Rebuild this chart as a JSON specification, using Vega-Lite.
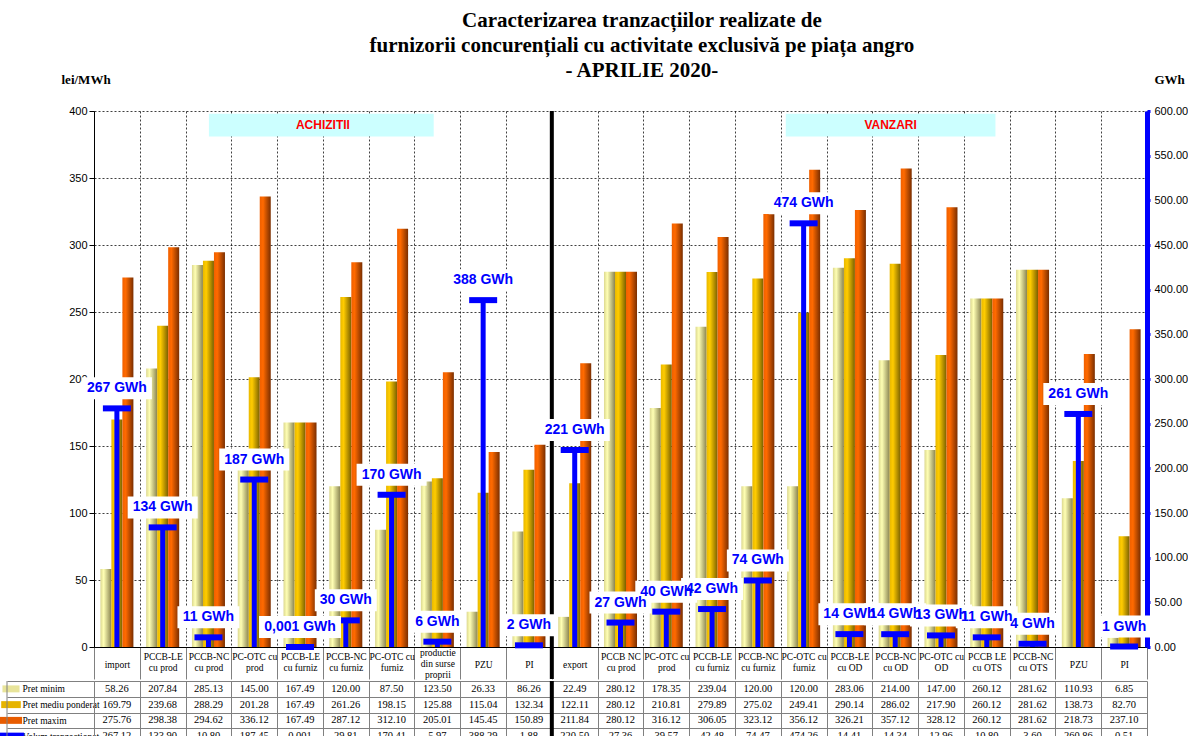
{
  "$schema": "https://vega.github.io/schema/vega-lite/v6.json",
  "background": "white",
  "padding": {"left": -2, "top": 10, "right": 0, "bottom": 0},
  "config": {"view": {"stroke": null}, "font": "Liberation Sans"},
  "title": {
    "text": ["Caracterizarea tranzacțiilor realizate de", "furnizorii concurențiali cu activitate exclusivă pe piața angro", "- APRILIE 2020-"],
    "font": "Liberation Serif", "fontSize": 21, "fontWeight": "bold", "lineHeight": 25, "color": "#000", "anchor": "middle", "dx": 49, "offset": -8
  },
  "datasets": {
    "rows": [
      {"cat": "A01|import", "min": 58.26, "med": 169.79, "max": 275.76, "vol": 267.12, "lbl": "267 GWh"},
      {"cat": "A02|PCCB-LE~cu prod", "min": 207.84, "med": 239.68, "max": 298.38, "vol": 133.90, "lbl": "134 GWh"},
      {"cat": "A03|PCCB-NC~cu prod", "min": 285.13, "med": 288.29, "max": 294.62, "vol": 10.80, "lbl": "11 GWh"},
      {"cat": "A04|PC-OTC cu~prod", "min": 145.00, "med": 201.28, "max": 336.12, "vol": 187.45, "lbl": "187 GWh"},
      {"cat": "A05|PCCB-LE~cu furniz", "min": 167.49, "med": 167.49, "max": 167.49, "vol": 0.001, "lbl": "0,001 GWh"},
      {"cat": "A06|PCCB-NC~cu furniz", "min": 120.00, "med": 261.26, "max": 287.12, "vol": 29.81, "lbl": "30 GWh"},
      {"cat": "A07|PC-OTC cu~furniz", "min": 87.50, "med": 198.15, "max": 312.10, "vol": 170.41, "lbl": "170 GWh"},
      {"cat": "A08|productie~din surse~proprii", "min": 123.50, "med": 125.88, "max": 205.01, "vol": 5.97, "lbl": "6 GWh"},
      {"cat": "A09|PZU", "min": 26.33, "med": 115.04, "max": 145.45, "vol": 388.29, "lbl": "388 GWh"},
      {"cat": "A10|PI", "min": 86.26, "med": 132.34, "max": 150.89, "vol": 1.88, "lbl": "2 GWh"},
      {"cat": "V01|export", "min": 22.49, "med": 122.11, "max": 211.84, "vol": 220.50, "lbl": "221 GWh"},
      {"cat": "V02|PCCB NC~cu prod", "min": 280.12, "med": 280.12, "max": 280.12, "vol": 27.36, "lbl": "27 GWh"},
      {"cat": "V03|PC-OTC cu~prod", "min": 178.35, "med": 210.81, "max": 316.12, "vol": 39.57, "lbl": "40 GWh"},
      {"cat": "V04|PCCB-LE~cu furniz", "min": 239.04, "med": 279.89, "max": 306.05, "vol": 42.48, "lbl": "42 GWh"},
      {"cat": "V05|PCCB-NC~cu furniz", "min": 120.00, "med": 275.02, "max": 323.12, "vol": 74.47, "lbl": "74 GWh"},
      {"cat": "V06|PC-OTC cu~furniz", "min": 120.00, "med": 249.41, "max": 356.12, "vol": 474.26, "lbl": "474 GWh"},
      {"cat": "V07|PCCB-LE~cu OD", "min": 283.06, "med": 290.14, "max": 326.21, "vol": 14.41, "lbl": "14 GWh"},
      {"cat": "V08|PCCB-NC~cu OD", "min": 214.00, "med": 286.02, "max": 357.12, "vol": 14.34, "lbl": "14 GWh"},
      {"cat": "V09|PC-OTC cu~OD", "min": 147.00, "med": 217.90, "max": 328.12, "vol": 12.96, "lbl": "13 GWh"},
      {"cat": "V10|PCCB LE~cu OTS", "min": 260.12, "med": 260.12, "max": 260.12, "vol": 10.80, "lbl": "11 GWh"},
      {"cat": "V11|PCCB-NC~cu OTS", "min": 281.62, "med": 281.62, "max": 281.62, "vol": 3.60, "lbl": "4 GWh"},
      {"cat": "V12|PZU", "min": 110.93, "med": 138.73, "max": 218.73, "vol": 260.86, "lbl": "261 GWh"},
      {"cat": "V13|PI", "min": 6.85, "med": 82.70, "max": 237.10, "vol": 0.51, "lbl": "1 GWh"}
    ]
  },
  "spacing": -12,
  "vconcat": [
    {
      "width": 1053,
      "height": 536,
      "data": {"name": "rows"},
      "encoding": {
        "x": {
          "field": "cat", "type": "nominal", "sort": "ascending",
          "scale": {"paddingInner": 0, "paddingOuter": 0},
          "axis": {
            "orient": "bottom", "title": null, "tickBand": "extent", "tickSize": 32, "tickColor": "#808080",
            "domainColor": "#000", "grid": true, "gridDash": [2, 2], "gridColor": "#000", "gridOpacity": 0.75,
            "labelExpr": "isValid(datum.value) ? split(substring(datum.value, 4), '~') : ''", "labelAngle": 0, "labelFont": "Liberation Serif",
            "labelFontSize": 9.5, "labelColor": "#000", "labelBaseline": "middle",
            "labelPadding": {"condition": [{"test": "isValid(datum.value) && indexof(datum.value, '~') < 0", "value": -15}, {"test": "isValid(datum.value) && indexof(datum.value, 'proprii') >= 0", "value": -27}], "value": -23},
            "labelLineHeight": 11, "labelOverlap": false
          }
        }
      },
      "layer": [
        {
          "transform": [{"fold": ["min", "med", "max"], "as": ["series", "price"]}, {"filter": "datum.series === 'min'"}],
          "mark": {"type": "bar", "fill": {"gradient": "linear", "x1": 0, "y1": 0, "x2": 1, "y2": 0, "stops": [{"offset": 0, "color": "#dcd890"}, {"offset": 0.3, "color": "#ffffb4"}, {"offset": 1, "color": "#8a8450"}]}},
          "encoding": {
            "xOffset": {"field": "series", "type": "nominal", "scale": {"domain": ["min", "med", "max"], "paddingInner": 0, "paddingOuter": 0.58}},
            "y": {
              "field": "price", "type": "quantitative", "scale": {"domain": [0, 400]},
              "axis": {
                "orient": "left", "values": [0, 50, 100, 150, 200, 250, 300, 350, 400], "grid": true,
                "gridDash": [2, 2], "gridColor": "#000", "gridOpacity": 0.75, "domainColor": "#000",
                "tickColor": "#000", "tickSize": 5, "labelFont": "Liberation Sans", "labelFontSize": 11,
                "labelColor": "#000", "title": "lei/MWh", "titleAngle": 0, "titleAlign": "left",
                "titleBaseline": "alphabetic", "titleX": -33, "titleY": -28, "titleFont": "Liberation Serif",
                "titleFontSize": 13, "titleFontWeight": "bold", "titleColor": "#000"
              }
            }
          }
        },
        {
          "transform": [{"fold": ["min", "med", "max"], "as": ["series", "price"]}, {"filter": "datum.series === 'med'"}],
          "mark": {"type": "bar", "fill": {"gradient": "linear", "x1": 0, "y1": 0, "x2": 1, "y2": 0, "stops": [{"offset": 0, "color": "#e8b800"}, {"offset": 0.3, "color": "#ffcc00"}, {"offset": 1, "color": "#7a6000"}]}},
          "encoding": {
            "xOffset": {"field": "series", "type": "nominal", "scale": {"domain": ["min", "med", "max"], "paddingInner": 0, "paddingOuter": 0.58}},
            "y": {"field": "price", "type": "quantitative", "scale": {"domain": [0, 400]}, "axis": null}
          }
        },
        {
          "transform": [{"fold": ["min", "med", "max"], "as": ["series", "price"]}, {"filter": "datum.series === 'max'"}],
          "mark": {"type": "bar", "fill": {"gradient": "linear", "x1": 0, "y1": 0, "x2": 1, "y2": 0, "stops": [{"offset": 0, "color": "#f06000"}, {"offset": 0.3, "color": "#ff6a00"}, {"offset": 1, "color": "#7a2e00"}]}},
          "encoding": {
            "xOffset": {"field": "series", "type": "nominal", "scale": {"domain": ["min", "med", "max"], "paddingInner": 0, "paddingOuter": 0.58}},
            "y": {"field": "price", "type": "quantitative", "scale": {"domain": [0, 400]}, "axis": null}
          }
        },
        {
          "data": {"values": [{"name": "divider"}]},
          "mark": {"type": "rule", "color": "#000", "strokeWidth": 4, "y2Offset": 32},
          "encoding": {
            "x": {"datum": "V01|export", "bandPosition": 0},
            "y": {"datum": 400, "type": "quantitative", "scale": {"domain": [0, 400]}, "axis": null},
            "y2": {"datum": 0}
          }
        },
        {
          "data": {"values": [{"name": "ACHIZITII"}]},
          "mark": {"type": "rect", "color": "#ccffff"},
          "encoding": {
            "x": {"datum": "A03|PCCB-NC~cu prod", "bandPosition": 0.51},
            "x2": {"datum": "A08|productie~din surse~proprii", "bandPosition": 0.42},
            "y": {"datum": 398, "type": "quantitative", "scale": {"domain": [0, 400]}, "axis": null},
            "y2": {"datum": 381}
          }
        },
        {
          "data": {"values": [{"name": "VANZARI"}]},
          "mark": {"type": "rect", "color": "#ccffff"},
          "encoding": {
            "x": {"datum": "V06|PC-OTC cu~furniz", "bandPosition": 0.11},
            "x2": {"datum": "V10|PCCB LE~cu OTS", "bandPosition": 0.69},
            "y": {"datum": 398, "type": "quantitative", "scale": {"domain": [0, 400]}, "axis": null},
            "y2": {"datum": 381}
          }
        },
        {
          "data": {"values": [{"name": "ACHIZITII"}]},
          "mark": {"type": "text", "color": "#ff0000", "font": "Liberation Sans", "fontWeight": "bold", "fontSize": 12, "baseline": "middle"},
          "encoding": {
            "x": {"datum": "A06|PCCB-NC~cu furniz", "bandPosition": 0},
            "y": {"datum": 389.5, "type": "quantitative", "scale": {"domain": [0, 400]}, "axis": null},
            "text": {"field": "name"}
          }
        },
        {
          "data": {"values": [{"name": "VANZARI"}]},
          "mark": {"type": "text", "color": "#ff0000", "font": "Liberation Sans", "fontWeight": "bold", "fontSize": 12, "baseline": "middle"},
          "encoding": {
            "x": {"datum": "V08|PCCB-NC~cu OD", "bandPosition": 0.4},
            "y": {"datum": 389.5, "type": "quantitative", "scale": {"domain": [0, 400]}, "axis": null},
            "text": {"field": "name"}
          }
        },
        {
          "mark": {"type": "rule", "color": "#0000ff", "strokeWidth": 5},
          "encoding": {
            "y": {
              "field": "vol", "type": "quantitative", "scale": {"domain": [0, 600]},
              "axis": {
                "orient": "right", "values": [0, 50, 100, 150, 200, 250, 300, 350, 400, 450, 500, 550, 600],
                "format": ".2f", "grid": false, "domainColor": "#0000ff", "domainWidth": 5, "tickColor": "#0000ff",
                "tickWidth": 3, "tickSize": 3, "labelPadding": 4, "labelFont": "Liberation Sans", "labelFontSize": 11,
                "labelColor": "#000", "title": "GWh", "titleAngle": 0, "titleAlign": "left", "titleBaseline": "alphabetic",
                "titleX": 7, "titleY": -28, "titleFont": "Liberation Serif", "titleFontSize": 13,
                "titleFontWeight": "bold", "titleColor": "#000"
              }
            },
            "y2": {"datum": 0}
          }
        },
        {
          "mark": {"type": "tick", "color": "#0000ff", "thickness": 6, "size": 28, "orient": "horizontal", "opacity": 1},
          "encoding": {"y": {"field": "vol", "type": "quantitative", "scale": {"domain": [0, 600]}, "axis": null}}
        },
        {
          "transform": [{"calculate": "length(datum.lbl)", "as": "len"}],
          "mark": {"type": "point", "filled": true, "color": "white", "opacity": 1, "size": 400, "yOffset": -20, "strokeWidth": 0},
          "encoding": {
            "y": {"field": "vol", "type": "quantitative", "scale": {"domain": [0, 600]}, "axis": null},
            "shape": {
              "field": "len", "type": "ordinal",
              "scale": {"domain": [5, 6, 7, 9], "range": ["M-2.7,-1.1H2.7V1.1H-2.7Z", "M-3.1,-1.1H3.1V1.1H-3.1Z", "M-3.5,-1.1H3.5V1.1H-3.5Z", "M-4.1,-1.1H4.1V1.1H-4.1Z"]},
              "legend": null
            }
          }
        },
        {
          "mark": {"type": "text", "color": "#0000ff", "font": "Liberation Sans", "fontWeight": "bold", "fontSize": 14, "baseline": "middle", "yOffset": -20},
          "encoding": {
            "y": {"field": "vol", "type": "quantitative", "scale": {"domain": [0, 600]}, "axis": null},
            "text": {"field": "lbl"}
          }
        }
      ],
      "resolve": {"scale": {"y": "independent"}}
    },
    {
      "width": 1053,
      "height": 63,
      "data": {"name": "rows"},
      "transform": [{"fold": ["min", "med", "max", "vol"], "as": ["row", "value"]}],
      "layer": [
        {
          "transform": [{"calculate": "datum.value === 0.001 ? '0.001' : format(datum.value, '.2f')", "as": "txt"}],
          "mark": {"type": "text", "font": "Liberation Serif", "fontSize": 10.5, "color": "#000", "baseline": "middle"},
          "encoding": {
            "x": {
              "field": "cat", "type": "nominal", "sort": "ascending", "scale": {"paddingInner": 0, "paddingOuter": 0},
              "axis": {"orient": "top", "labels": false, "ticks": false, "domain": false, "grid": true, "gridColor": "#808080", "gridOpacity": 1, "tickBand": "extent", "title": null}
            },
            "y": {
              "field": "row", "type": "nominal", "sort": ["min", "med", "max", "vol"], "scale": {"paddingInner": 0, "paddingOuter": 0},
              "axis": {
                "orient": "left", "title": null,
                "labelExpr": "datum.value === 'min' ? 'Pret minim' : datum.value === 'med' ? 'Pret mediu ponderat' : datum.value === 'max' ? 'Pret maxim' : datum.value === 'vol' ? 'Volum tranzactionat' : ''",
                "labelAlign": "left", "labelBaseline": "middle", "labelPadding": -15, "tickSize": 87, "tickBand": "extent",
                "tickColor": "#808080", "domainColor": "#808080", "grid": true, "gridColor": "#808080", "gridOpacity": 1,
                "labelFont": "Liberation Serif", "labelFontSize": 9.5, "labelColor": "#000"
              }
            },
            "text": {"field": "txt"}
          }
        },
        {
          "transform": [{"filter": "datum.cat === 'A01|import'"}],
          "mark": {"type": "point", "filled": true, "opacity": 1, "size": 40, "xOffset": -83},
          "encoding": {
            "x": {"field": "cat", "type": "nominal", "sort": "ascending", "bandPosition": 0},
            "y": {"field": "row", "type": "nominal", "sort": ["min", "med", "max", "vol"]},
            "color": {"field": "row", "type": "nominal", "scale": {"domain": ["min", "med", "max", "vol"], "range": ["#e8e49a", "#e6b400", "#e85c00", "#0000ff"]}, "legend": null},
            "shape": {"field": "row", "type": "nominal", "scale": {"domain": ["min", "med", "max", "vol"], "range": ["square", "square", "square", "M-1,-0.35H1V0.35H-1Z"]}, "legend": null}
          }
        },
        {
          "data": {"values": [{"name": "left border"}]},
          "mark": {"type": "rule", "color": "#808080", "strokeWidth": 1, "xOffset": -87},
          "encoding": {"x": {"datum": "A01|import", "bandPosition": 0}}
        },
        {
          "data": {"values": [{"name": "divider"}]},
          "mark": {"type": "rule", "color": "#000", "strokeWidth": 4},
          "encoding": {"x": {"datum": "V01|export", "bandPosition": 0}}
        }
      ]
    }
  ]
}
